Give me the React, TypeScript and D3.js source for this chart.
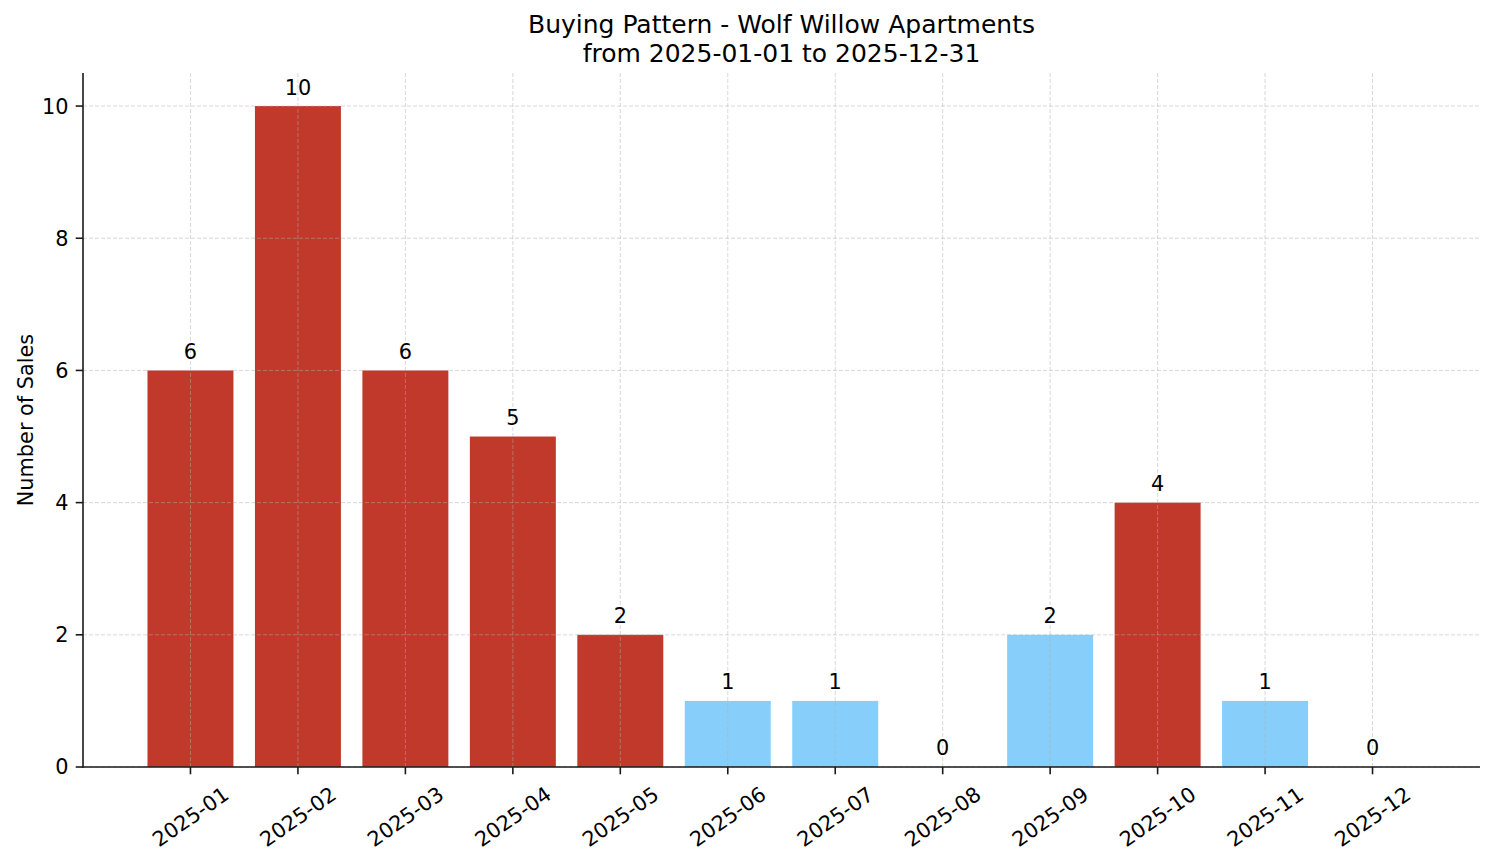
import React from "react";
import * as d3 from "d3";

const months = ["2025-01","2025-02","2025-03","2025-04","2025-05","2025-06","2025-07","2025-08","2025-09","2025-10","2025-11","2025-12"];
const sales = [6, 10, 6, 5, 2, 1, 1, 0, 2, 4, 1, 0];
const highlighted = [true, true, true, true, true, false, false, false, false, true, false, false];
const yTicks = [0, 2, 4, 6, 8, 10];
const titleLines = ["Buying Pattern - Wolf Willow Apartments", "from 2025-01-01 to 2025-12-31"];
const yLabel = "Number of Sales";

const W = 1494, H = 863;
const left = 83, right = 1480, top = 73, bottom = 767;
const RED = "#c0392b", BLUE = "#87cefa";
const FONT = "DejaVu Sans, sans-serif";

export default function App() {
  const x = d3.scaleBand<string>().domain(months).range([left, right]).paddingInner(0.2).paddingOuter(0.6);
  const y = d3.scaleLinear().domain([0, 10.5]).range([bottom, top]);
  const bw = x.bandwidth();
  const cx = (m: string) => (x(m) as number) + bw / 2;
  const tick = 7.3, pad = 7.3;
  const ang = 35;
  const fs = 20.83;
  return (
    <svg width={W} height={H} style={{ position: "fixed", left: 0, top: 0, background: "#fff" }} fontFamily={FONT}>
      <rect width={W} height={H} fill="#fff" />
      {/* bars */}
      {months.map((m, i) => (
        <rect key={m} x={x(m)} y={y(sales[i])} width={bw} height={y(0) - y(sales[i])} fill={highlighted[i] ? RED : BLUE} />
      ))}
      {/* grid */}
      <g stroke="#b0b0b0" strokeOpacity={0.55} strokeWidth={0.9} strokeDasharray="4,2">
        {yTicks.map((t) => (
          <line key={"gy" + t} x1={left} x2={right} y1={y(t)} y2={y(t)} />
        ))}
        {months.map((m) => (
          <line key={"gx" + m} x1={cx(m)} x2={cx(m)} y1={top} y2={bottom} />
        ))}
      </g>
      {/* value labels */}
      {months.map((m, i) => (
        <text key={"v" + m} x={cx(m)} y={y(sales[i] + 0.1) - 4.9} textAnchor="middle" fontSize={fs} fill="#000">
          {sales[i]}
        </text>
      ))}
      {/* spines */}
      <g stroke="#1a1a1a" strokeWidth={1.6}>
        <line x1={left} x2={left} y1={top} y2={bottom + 0.8} />
        <line x1={left - 0.8} x2={right} y1={bottom} y2={bottom} />
      </g>
      {/* y ticks */}
      {yTicks.map((t) => (
        <g key={"yt" + t}>
          <line x1={left - tick} x2={left} y1={y(t)} y2={y(t)} stroke="#1a1a1a" strokeWidth={1.6} />
          <text x={left - tick - pad} y={y(t)} dy="0.36em" textAnchor="end" fontSize={fs} fill="#000">{t}</text>
        </g>
      ))}
      {/* x ticks */}
      {months.map((m) => {
        const tx = cx(m);
        const w = m.length * 0.6 * fs;
        const h = fs * 1.16;
        const rad = (ang * Math.PI) / 180;
        const cy = bottom + tick + pad + (w * Math.sin(rad) + h * Math.cos(rad)) / 2;
        return (
          <g key={"xt" + m}>
            <line x1={tx} x2={tx} y1={bottom} y2={bottom + tick} stroke="#1a1a1a" strokeWidth={1.6} />
            <text x={tx} y={cy} dy="0.36em" textAnchor="middle" fontSize={fs} fill="#000" transform={`rotate(${-ang}, ${tx}, ${cy})`}>{m}</text>
          </g>
        );
      })}
      {/* y label */}
      <text x={33} y={(top + bottom) / 2} textAnchor="middle" fontSize={fs} fill="#000" transform={`rotate(-90, 33, ${(top + bottom) / 2})`}>{yLabel}</text>
      {/* title */}
      {titleLines.map((l, i) => (
        <text key={"t" + i} x={(left + right) / 2} y={33 + i * 29} textAnchor="middle" fontSize={25} fill="#000">{l}</text>
      ))}
    </svg>
  );
}
